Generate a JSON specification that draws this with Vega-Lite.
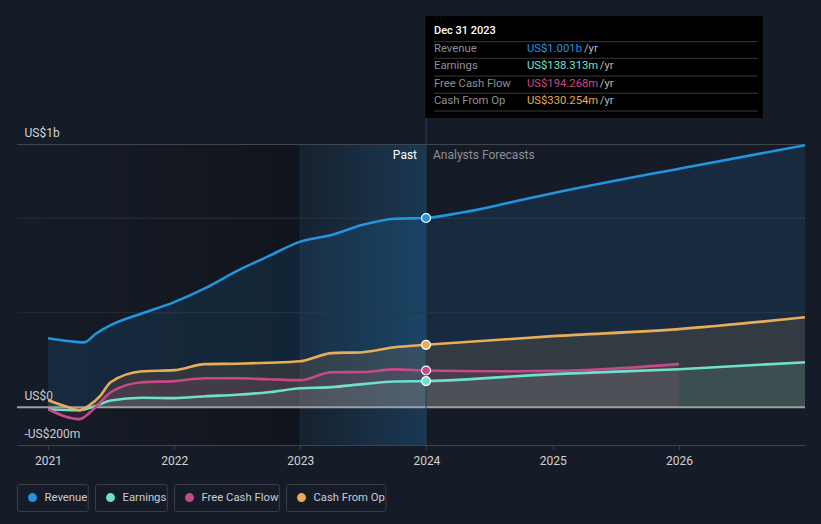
{
  "$schema": "https://vega.github.io/schema/vega-lite/v6.json",
  "autosize": {"type": "none"},
  "width": 788,
  "height": 440,
  "padding": {"left": 17, "top": 5, "right": 16, "bottom": 79},
  "background": "#161c27",
  "config": {"view": {"stroke": null}, "font": "Roboto"},
  "data": {"values": [{}]},
  "datasets": {
    "series": [
      {"series": "Revenue", "date": "2021-01-01", "value": 365},
      {"series": "Revenue", "date": "2021-03-01", "value": 350},
      {"series": "Revenue", "date": "2021-04-15", "value": 343},
      {"series": "Revenue", "date": "2021-05-20", "value": 390},
      {"series": "Revenue", "date": "2021-07-01", "value": 434},
      {"series": "Revenue", "date": "2021-10-01", "value": 497},
      {"series": "Revenue", "date": "2022-01-01", "value": 556},
      {"series": "Revenue", "date": "2022-04-01", "value": 630},
      {"series": "Revenue", "date": "2022-07-01", "value": 720},
      {"series": "Revenue", "date": "2022-10-01", "value": 799},
      {"series": "Revenue", "date": "2023-01-01", "value": 876},
      {"series": "Revenue", "date": "2023-04-01", "value": 911},
      {"series": "Revenue", "date": "2023-07-01", "value": 965},
      {"series": "Revenue", "date": "2023-10-01", "value": 997},
      {"series": "Revenue", "date": "2023-12-31", "value": 1001},
      {"series": "Revenue", "date": "2024-04-01", "value": 1026},
      {"series": "Revenue", "date": "2024-07-01", "value": 1058},
      {"series": "Revenue", "date": "2024-10-01", "value": 1096},
      {"series": "Revenue", "date": "2025-01-01", "value": 1132},
      {"series": "Revenue", "date": "2026-01-01", "value": 1262},
      {"series": "Revenue", "date": "2027-01-01", "value": 1386},
      {"series": "Earnings", "date": "2021-01-01", "value": -11},
      {"series": "Earnings", "date": "2021-04-01", "value": -16},
      {"series": "Earnings", "date": "2021-05-20", "value": 8},
      {"series": "Earnings", "date": "2021-07-01", "value": 35},
      {"series": "Earnings", "date": "2021-10-01", "value": 50},
      {"series": "Earnings", "date": "2022-01-01", "value": 48},
      {"series": "Earnings", "date": "2022-04-01", "value": 58},
      {"series": "Earnings", "date": "2022-07-01", "value": 66},
      {"series": "Earnings", "date": "2022-10-01", "value": 79},
      {"series": "Earnings", "date": "2023-01-01", "value": 100},
      {"series": "Earnings", "date": "2023-04-01", "value": 106},
      {"series": "Earnings", "date": "2023-07-01", "value": 122},
      {"series": "Earnings", "date": "2023-10-01", "value": 136},
      {"series": "Earnings", "date": "2023-12-31", "value": 138},
      {"series": "Earnings", "date": "2025-01-01", "value": 175},
      {"series": "Earnings", "date": "2026-01-01", "value": 201},
      {"series": "Earnings", "date": "2027-01-01", "value": 238},
      {"series": "Free Cash Flow", "date": "2021-01-01", "value": -11},
      {"series": "Free Cash Flow", "date": "2021-04-01", "value": -63},
      {"series": "Free Cash Flow", "date": "2021-05-01", "value": -30},
      {"series": "Free Cash Flow", "date": "2021-06-01", "value": 25},
      {"series": "Free Cash Flow", "date": "2021-07-01", "value": 79},
      {"series": "Free Cash Flow", "date": "2021-10-01", "value": 132},
      {"series": "Free Cash Flow", "date": "2022-01-01", "value": 138},
      {"series": "Free Cash Flow", "date": "2022-04-01", "value": 153},
      {"series": "Free Cash Flow", "date": "2022-07-01", "value": 153},
      {"series": "Free Cash Flow", "date": "2022-10-01", "value": 148},
      {"series": "Free Cash Flow", "date": "2023-01-01", "value": 143},
      {"series": "Free Cash Flow", "date": "2023-04-01", "value": 185},
      {"series": "Free Cash Flow", "date": "2023-07-01", "value": 186},
      {"series": "Free Cash Flow", "date": "2023-10-01", "value": 200},
      {"series": "Free Cash Flow", "date": "2023-12-31", "value": 194},
      {"series": "Free Cash Flow", "date": "2024-07-01", "value": 190},
      {"series": "Free Cash Flow", "date": "2025-01-01", "value": 192},
      {"series": "Free Cash Flow", "date": "2025-07-01", "value": 205},
      {"series": "Free Cash Flow", "date": "2026-01-01", "value": 228},
      {"series": "Cash From Op", "date": "2021-01-01", "value": 37},
      {"series": "Cash From Op", "date": "2021-03-01", "value": 0},
      {"series": "Cash From Op", "date": "2021-04-01", "value": -16},
      {"series": "Cash From Op", "date": "2021-05-01", "value": 11},
      {"series": "Cash From Op", "date": "2021-06-01", "value": 60},
      {"series": "Cash From Op", "date": "2021-07-01", "value": 132},
      {"series": "Cash From Op", "date": "2021-10-01", "value": 190},
      {"series": "Cash From Op", "date": "2022-01-01", "value": 196},
      {"series": "Cash From Op", "date": "2022-04-01", "value": 228},
      {"series": "Cash From Op", "date": "2022-07-01", "value": 230},
      {"series": "Cash From Op", "date": "2022-10-01", "value": 235},
      {"series": "Cash From Op", "date": "2023-01-01", "value": 243},
      {"series": "Cash From Op", "date": "2023-04-01", "value": 286},
      {"series": "Cash From Op", "date": "2023-07-01", "value": 291},
      {"series": "Cash From Op", "date": "2023-10-01", "value": 317},
      {"series": "Cash From Op", "date": "2023-12-31", "value": 330},
      {"series": "Cash From Op", "date": "2025-01-01", "value": 376},
      {"series": "Cash From Op", "date": "2026-01-01", "value": 413},
      {"series": "Cash From Op", "date": "2027-01-01", "value": 476}
    ]
  },
  "layer": [
    {
      "mark": {"type": "rect", "fill": {"gradient": "linear", "x1": 0, "x2": 1, "y1": 0, "y2": 0, "stops": [{"offset": 0, "color": "rgba(0,0,0,0)"}, {"offset": 1, "color": "rgba(0,0,0,0.28)"}]}},
      "encoding": {
        "x": {"datum": {"year": 2020, "month": 10, "date": 3, "utc": true}, "type": "temporal", "title": null, "scale": {"type": "utc", "domain": [{"year": 2020, "month": 10, "date": 3, "utc": true}, {"year": 2027, "month": 1, "date": 1, "utc": true}]}},
        "x2": {"datum": {"year": 2023, "month": 1, "date": 1, "utc": true}},
        "y": {"datum": 1390, "type": "quantitative", "title": null, "scale": {"domain": [-200, 2128], "nice": false, "zero": false}},
        "y2": {"datum": -200}
      }
    },
    {
      "mark": {"type": "rect", "fill": {"gradient": "linear", "x1": 0, "x2": 1, "y1": 0, "y2": 0, "stops": [{"offset": 0, "color": "rgba(35,148,223,0.04)"}, {"offset": 1, "color": "rgba(35,148,223,0.24)"}]}},
      "encoding": {
        "x": {"datum": {"year": 2023, "month": 1, "date": 1, "utc": true}, "type": "temporal", "title": null},
        "x2": {"datum": {"year": 2023, "month": 12, "date": 31, "utc": true}},
        "y": {"datum": 1390, "type": "quantitative", "title": null},
        "y2": {"datum": -200}
      }
    },
    {
      "mark": {"type": "rule", "color": "#1f2d3c", "strokeWidth": 1},
      "encoding": {
        "x": {"datum": {"year": 2023, "month": 1, "date": 1, "utc": true}, "type": "temporal", "title": null},
        "y": {"datum": 1390, "type": "quantitative", "title": null},
        "y2": {"datum": -200}
      }
    },
    {
      "mark": {"type": "rule", "color": "#42464e", "strokeWidth": 1},
      "encoding": {"y": {"datum": 1390, "type": "quantitative", "title": null}}
    },
    {
      "mark": {"type": "rule", "color": "#2b313a", "strokeWidth": 1},
      "encoding": {"y": {"datum": 1000, "type": "quantitative", "title": null}}
    },
    {
      "mark": {"type": "rule", "color": "#262c35", "strokeWidth": 1},
      "encoding": {"y": {"datum": 500, "type": "quantitative", "title": null}}
    },
    {
      "data": {"name": "series"},
      "mark": {"type": "area", "interpolate": "monotone", "opacity": 0.13},
      "encoding": {
        "x": {"field": "date", "type": "temporal", "title": null},
        "y": {"field": "value", "type": "quantitative", "stack": null, "title": null},
        "color": {"field": "series", "type": "nominal", "title": null, "scale": {"domain": ["Revenue", "Earnings", "Free Cash Flow", "Cash From Op"], "range": ["#2394df", "#6fe0cc", "#c64a88", "#e8ad5a"]}}
      }
    },
    {
      "mark": {"type": "rule", "color": "#9c9fa5", "strokeWidth": 2},
      "encoding": {"y": {"datum": 0, "type": "quantitative", "title": null}}
    },
    {
      "data": {"name": "series"},
      "mark": {"type": "line", "interpolate": "monotone", "strokeWidth": 2.6},
      "encoding": {
        "x": {"field": "date", "type": "temporal", "title": null,
          "axis": {"values": [{"year": 2021, "month": 1, "date": 1, "utc": true}, {"year": 2022, "month": 1, "date": 1, "utc": true}, {"year": 2023, "month": 1, "date": 1, "utc": true}, {"year": 2024, "month": 1, "date": 1, "utc": true}, {"year": 2025, "month": 1, "date": 1, "utc": true}, {"year": 2026, "month": 1, "date": 1, "utc": true}],
            "format": "%Y", "grid": false, "domainColor": "#3f434b", "domainWidth": 1, "tickColor": "#3f434b", "tickSize": 4, "labelColor": "#d0d3d8", "labelFontSize": 12, "labelPadding": 6, "labelFlush": false}},
        "y": {"field": "value", "type": "quantitative", "title": null,
          "axis": {"values": [-200, 0, 1390], "labelExpr": "datum.value == 0 ? 'US$0' : (datum.value < 0 ? '-US$200m' : 'US$1b')", "grid": false, "domain": false, "ticks": false, "labelAlign": "left", "labelPadding": -7, "labelBaseline": "alphabetic", "labelOffset": -8, "labelColor": "#d0d3d8", "labelFontSize": 12, "labelOverlap": false, "labelFlush": false}},
        "color": {"field": "series", "type": "nominal", "title": null,
          "legend": {"title": null, "orient": "none", "legendX": 0, "legendY": 479, "direction": "horizontal", "symbolType": "circle", "symbolSize": 80, "labelColor": "#c9ccd1", "labelFontSize": 11.3, "columnPadding": 7, "padding": 0,
            "encode": {
              "symbols": {"update": {"fill": {"scale": "color", "field": "value"}, "stroke": {"value": "#161c27"}, "strokeOpacity": {"value": 0.01}, "strokeWidth": {"value": 4.2}, "opacity": {"value": 1}, "fillOpacity": {"value": 1}, "x": {"value": 15.5}, "y": {"value": 13.5}}},
              "labels": {"update": {"x": {"value": 27.5}, "y": {"value": 13.5}, "baseline": {"value": "middle"}}},
              "entries": {"update": {"stroke": {"value": "#3a3f49"}, "strokeWidth": {"value": 1}, "cornerRadius": {"value": 2}}}
            }}}
      }
    },
    {
      "mark": {"type": "rule", "color": "#23405a", "strokeWidth": 1},
      "encoding": {
        "x": {"datum": {"year": 2023, "month": 12, "date": 31, "utc": true}, "type": "temporal", "title": null},
        "y": {"datum": 2070, "type": "quantitative", "title": null},
        "y2": {"datum": -200}
      }
    },
    {
      "data": {"name": "series"},
      "transform": [{"filter": "time(datum.date) == utc(2023, 11, 31)"}],
      "mark": {"type": "point", "filled": true, "size": 80, "opacity": 1, "stroke": "#ffffff", "strokeWidth": 1.2},
      "encoding": {
        "x": {"field": "date", "type": "temporal", "title": null},
        "y": {"field": "value", "type": "quantitative", "title": null},
        "color": {"field": "series", "type": "nominal", "title": null}
      }
    },
    {
      "mark": {"type": "text", "text": "Past", "align": "right", "baseline": "middle", "dx": -9, "dy": 11, "color": "#ffffff", "fontSize": 12},
      "encoding": {
        "x": {"datum": {"year": 2023, "month": 12, "date": 31, "utc": true}, "type": "temporal", "title": null},
        "y": {"datum": 1390, "type": "quantitative", "title": null}
      }
    },
    {
      "mark": {"type": "text", "text": "Analysts Forecasts", "align": "left", "baseline": "middle", "dx": 7, "dy": 11, "color": "#8b9097", "fontSize": 12},
      "encoding": {
        "x": {"datum": {"year": 2023, "month": 12, "date": 31, "utc": true}, "type": "temporal", "title": null},
        "y": {"datum": 1390, "type": "quantitative", "title": null}
      }
    },
    {
      "mark": {"type": "rect", "fill": "#000000"},
      "encoding": {
        "x": {"datum": {"year": 2023, "month": 12, "date": 29, "utc": true}, "type": "temporal", "title": null},
        "x2": {"datum": {"year": 2026, "month": 9, "date": 1, "utc": true}},
        "y": {"datum": 2070, "type": "quantitative", "title": null},
        "y2": {"datum": 1530}
      }
    },
    {
      "mark": {"type": "rule", "color": "#3a3a3a", "strokeWidth": 1},
      "encoding": {
        "x": {"datum": {"year": 2024, "month": 1, "date": 23, "utc": true}, "type": "temporal", "title": null},
        "x2": {"datum": {"year": 2026, "month": 8, "date": 18, "utc": true}},
        "y": {"datum": 1934, "type": "quantitative", "title": null}
      }
    },
    {
      "mark": {"type": "rule", "color": "#3a3a3a", "strokeWidth": 1},
      "encoding": {
        "x": {"datum": {"year": 2024, "month": 1, "date": 23, "utc": true}, "type": "temporal", "title": null},
        "x2": {"datum": {"year": 2026, "month": 8, "date": 18, "utc": true}},
        "y": {"datum": 1846, "type": "quantitative", "title": null}
      }
    },
    {
      "mark": {"type": "rule", "color": "#3a3a3a", "strokeWidth": 1},
      "encoding": {
        "x": {"datum": {"year": 2024, "month": 1, "date": 23, "utc": true}, "type": "temporal", "title": null},
        "x2": {"datum": {"year": 2026, "month": 8, "date": 18, "utc": true}},
        "y": {"datum": 1752, "type": "quantitative", "title": null}
      }
    },
    {
      "mark": {"type": "rule", "color": "#3a3a3a", "strokeWidth": 1},
      "encoding": {
        "x": {"datum": {"year": 2024, "month": 1, "date": 23, "utc": true}, "type": "temporal", "title": null},
        "x2": {"datum": {"year": 2026, "month": 8, "date": 18, "utc": true}},
        "y": {"datum": 1661, "type": "quantitative", "title": null}
      }
    },
    {
      "mark": {"type": "rule", "color": "#3a3a3a", "strokeWidth": 1},
      "encoding": {
        "x": {"datum": {"year": 2024, "month": 1, "date": 23, "utc": true}, "type": "temporal", "title": null},
        "x2": {"datum": {"year": 2026, "month": 8, "date": 18, "utc": true}},
        "y": {"datum": 1567, "type": "quantitative", "title": null}
      }
    },
    {
      "mark": {"type": "text", "text": "Dec 31 2023", "align": "left", "baseline": "middle", "color": "#ffffff", "fontSize": 11, "fontWeight": 500},
      "encoding": {
        "x": {"datum": {"year": 2024, "month": 1, "date": 23, "utc": true}, "type": "temporal", "title": null},
        "y": {"datum": 1990, "type": "quantitative", "title": null}
      }
    },
    {
      "mark": {"type": "text", "text": "Revenue", "align": "left", "baseline": "middle", "color": "#8b9097", "fontSize": 11.3},
      "encoding": {
        "x": {"datum": {"year": 2024, "month": 1, "date": 23, "utc": true}, "type": "temporal", "title": null},
        "y": {"datum": 1895, "type": "quantitative", "title": null}
      }
    },
    {
      "mark": {"type": "text", "text": "Earnings", "align": "left", "baseline": "middle", "color": "#8b9097", "fontSize": 11.3},
      "encoding": {
        "x": {"datum": {"year": 2024, "month": 1, "date": 23, "utc": true}, "type": "temporal", "title": null},
        "y": {"datum": 1805, "type": "quantitative", "title": null}
      }
    },
    {
      "mark": {"type": "text", "text": "Free Cash Flow", "align": "left", "baseline": "middle", "color": "#8b9097", "fontSize": 11.3},
      "encoding": {
        "x": {"datum": {"year": 2024, "month": 1, "date": 23, "utc": true}, "type": "temporal", "title": null},
        "y": {"datum": 1710, "type": "quantitative", "title": null}
      }
    },
    {
      "mark": {"type": "text", "text": "Cash From Op", "align": "left", "baseline": "middle", "color": "#8b9097", "fontSize": 11.3},
      "encoding": {
        "x": {"datum": {"year": 2024, "month": 1, "date": 23, "utc": true}, "type": "temporal", "title": null},
        "y": {"datum": 1620, "type": "quantitative", "title": null}
      }
    },
    {
      "mark": {"type": "text", "text": "US$1.001b", "align": "left", "baseline": "middle", "color": "#2394df", "fontSize": 11.3},
      "encoding": {
        "x": {"datum": {"year": 2024, "month": 10, "date": 18, "utc": true}, "type": "temporal", "title": null},
        "y": {"datum": 1895, "type": "quantitative", "title": null}
      }
    },
    {
      "mark": {"type": "text", "text": "US$138.313m", "align": "left", "baseline": "middle", "color": "#6fe3d3", "fontSize": 11.3},
      "encoding": {
        "x": {"datum": {"year": 2024, "month": 10, "date": 18, "utc": true}, "type": "temporal", "title": null},
        "y": {"datum": 1805, "type": "quantitative", "title": null}
      }
    },
    {
      "mark": {"type": "text", "text": "US$194.268m", "align": "left", "baseline": "middle", "color": "#c7488a", "fontSize": 11.3},
      "encoding": {
        "x": {"datum": {"year": 2024, "month": 10, "date": 18, "utc": true}, "type": "temporal", "title": null},
        "y": {"datum": 1710, "type": "quantitative", "title": null}
      }
    },
    {
      "mark": {"type": "text", "text": "US$330.254m", "align": "left", "baseline": "middle", "color": "#e6a94f", "fontSize": 11.3},
      "encoding": {
        "x": {"datum": {"year": 2024, "month": 10, "date": 18, "utc": true}, "type": "temporal", "title": null},
        "y": {"datum": 1620, "type": "quantitative", "title": null}
      }
    },
    {
      "mark": {"type": "text", "text": "/yr", "align": "left", "baseline": "middle", "color": "#b4b8be", "fontSize": 11.3},
      "encoding": {
        "x": {"datum": {"year": 2025, "month": 4, "date": 1, "utc": true}, "type": "temporal", "title": null},
        "y": {"datum": 1895, "type": "quantitative", "title": null}
      }
    },
    {
      "mark": {"type": "text", "text": "/yr", "align": "left", "baseline": "middle", "color": "#b4b8be", "fontSize": 11.3},
      "encoding": {
        "x": {"datum": {"year": 2025, "month": 5, "date": 17, "utc": true}, "type": "temporal", "title": null},
        "y": {"datum": 1805, "type": "quantitative", "title": null}
      }
    },
    {
      "mark": {"type": "text", "text": "/yr", "align": "left", "baseline": "middle", "color": "#b4b8be", "fontSize": 11.3},
      "encoding": {
        "x": {"datum": {"year": 2025, "month": 5, "date": 17, "utc": true}, "type": "temporal", "title": null},
        "y": {"datum": 1710, "type": "quantitative", "title": null}
      }
    },
    {
      "mark": {"type": "text", "text": "/yr", "align": "left", "baseline": "middle", "color": "#b4b8be", "fontSize": 11.3},
      "encoding": {
        "x": {"datum": {"year": 2025, "month": 5, "date": 17, "utc": true}, "type": "temporal", "title": null},
        "y": {"datum": 1620, "type": "quantitative", "title": null}
      }
    }
  ]
}
